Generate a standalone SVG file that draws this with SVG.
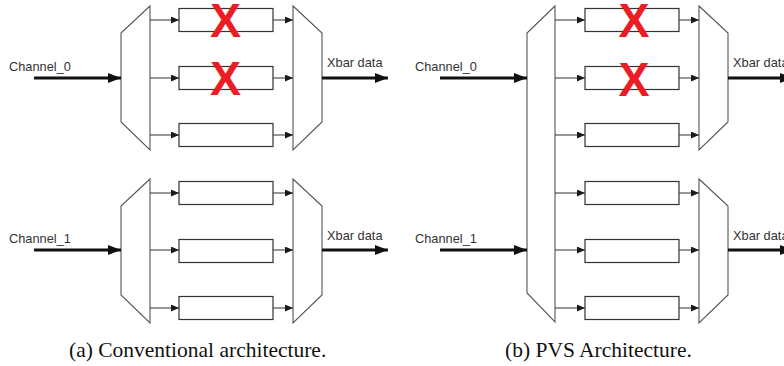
<svg xmlns="http://www.w3.org/2000/svg" width="784" height="366" viewBox="0 0 784 366">
  <defs>
    <marker id="head" markerUnits="userSpaceOnUse" markerWidth="9" markerHeight="8" refX="8" refY="3.5" orient="auto">
      <path d="M0,0 L8,3.5 L0,7 z" fill="#1a1a1a"/>
    </marker>
    <marker id="bighead" markerUnits="userSpaceOnUse" markerWidth="14" markerHeight="11" refX="13" refY="5" orient="auto">
      <path d="M0,0 L13,5 L0,10 z" fill="#111"/>
    </marker>
  </defs>
  <style>
    .mux { fill: #fff; stroke: #555; stroke-width: 1.1; }
    .buf { fill: #fff; stroke: #333; stroke-width: 1.2; }
    .thin { stroke: #444; stroke-width: 1.1; fill: none; marker-end: url(#head); }
    .thick { stroke: #111; stroke-width: 3.2; fill: none; marker-end: url(#bighead); }
    .lbl { font-family: "Liberation Sans", Arial, sans-serif; font-size: 12.8px; fill: #333; }
    .x { font-family: "Liberation Sans", Arial, sans-serif; font-weight: bold; font-size: 48px; fill: #ec1c24; text-anchor: middle; }
    .cap { font-family: "Liberation Serif", "Times New Roman", serif; font-size: 21.5px; fill: #111; }
  </style>

  <!-- (a) conventional: two independent demux / buffer / mux blocks -->
  <g id="a-ch0-demux"><polygon class="mux" points="150,6 121,33 121,122 150,150"/></g>
  <g id="a-ch0-buf0"><rect class="buf" x="179" y="8.5" width="94" height="23"/></g>
  <g id="a-ch0-buf1"><rect class="buf" x="179" y="66.5" width="94" height="23"/></g>
  <g id="a-ch0-buf2"><rect class="buf" x="179" y="123.5" width="94" height="23"/></g>
  <g id="a-ch0-mux"><polygon class="mux" points="293,6 322,33 322,122 293,150"/></g>

  <g id="a-ch1-demux"><polygon class="mux" points="150,179 121,206 121,295 150,323"/></g>
  <g id="a-ch1-buf0"><rect class="buf" x="179" y="181.5" width="94" height="23"/></g>
  <g id="a-ch1-buf1"><rect class="buf" x="179" y="239.5" width="94" height="23"/></g>
  <g id="a-ch1-buf2"><rect class="buf" x="179" y="296.5" width="94" height="23"/></g>
  <g id="a-ch1-mux"><polygon class="mux" points="293,179 322,206 322,295 293,323"/></g>

  <!-- (b) PVS: one shared demux feeding two mux blocks -->
  <g id="b-demux"><polygon class="mux" points="555,6 527,33 527,293 555,322"/></g>
  <g id="b-buf0"><rect class="buf" x="585" y="8.5" width="94" height="23"/></g>
  <g id="b-buf1"><rect class="buf" x="585" y="66.5" width="94" height="23"/></g>
  <g id="b-buf2"><rect class="buf" x="585" y="123.5" width="94" height="23"/></g>
  <g id="b-buf3"><rect class="buf" x="585" y="181.5" width="94" height="23"/></g>
  <g id="b-buf4"><rect class="buf" x="585" y="239.5" width="94" height="23"/></g>
  <g id="b-buf5"><rect class="buf" x="585" y="296.5" width="94" height="23"/></g>
  <g id="b-mux0"><polygon class="mux" points="699,6 728,33 728,122 699,150"/></g>
  <g id="b-mux1"><polygon class="mux" points="699,179 728,206 728,295 699,323"/></g>

  <g id="connectors">
    <!-- (a) top block -->
    <line class="thick" x1="34" y1="78" x2="121" y2="78"/>
    <line class="thin" x1="150" y1="20" x2="179" y2="20"/>
    <line class="thin" x1="150" y1="78" x2="179" y2="78"/>
    <line class="thin" x1="150" y1="135" x2="179" y2="135"/>
    <line class="thin" x1="273" y1="20" x2="293" y2="20"/>
    <line class="thin" x1="273" y1="78" x2="293" y2="78"/>
    <line class="thin" x1="273" y1="135" x2="293" y2="135"/>
    <line class="thick" x1="322" y1="78" x2="388" y2="78"/>
    <!-- (a) bottom block -->
    <line class="thick" x1="34" y1="250" x2="121" y2="250"/>
    <line class="thin" x1="150" y1="193" x2="179" y2="193"/>
    <line class="thin" x1="150" y1="250" x2="179" y2="250"/>
    <line class="thin" x1="150" y1="308" x2="179" y2="308"/>
    <line class="thin" x1="273" y1="193" x2="293" y2="193"/>
    <line class="thin" x1="273" y1="250" x2="293" y2="250"/>
    <line class="thin" x1="273" y1="308" x2="293" y2="308"/>
    <line class="thick" x1="322" y1="250" x2="388" y2="250"/>
    <!-- (b) -->
    <line class="thick" x1="440" y1="78" x2="527" y2="78"/>
    <line class="thick" x1="440" y1="250" x2="527" y2="250"/>
    <line class="thin" x1="555" y1="20" x2="585" y2="20"/>
    <line class="thin" x1="555" y1="78" x2="585" y2="78"/>
    <line class="thin" x1="555" y1="135" x2="585" y2="135"/>
    <line class="thin" x1="555" y1="193" x2="585" y2="193"/>
    <line class="thin" x1="555" y1="250" x2="585" y2="250"/>
    <line class="thin" x1="555" y1="308" x2="585" y2="308"/>
    <line class="thin" x1="679" y1="20" x2="699" y2="20"/>
    <line class="thin" x1="679" y1="78" x2="699" y2="78"/>
    <line class="thin" x1="679" y1="135" x2="699" y2="135"/>
    <line class="thin" x1="679" y1="193" x2="699" y2="193"/>
    <line class="thin" x1="679" y1="250" x2="699" y2="250"/>
    <line class="thin" x1="679" y1="308" x2="699" y2="308"/>
    <line class="thick" x1="728" y1="78" x2="793" y2="78"/>
    <line class="thick" x1="728" y1="250" x2="793" y2="250"/>
  </g>

  <!-- labels -->
  <text class="lbl" x="9" y="71">Channel_0</text>
  <text class="lbl" x="9" y="243">Channel_1</text>
  <text class="lbl" x="327" y="67">Xbar data</text>
  <text class="lbl" x="327" y="240">Xbar data</text>
  <text class="lbl" x="415" y="71">Channel_0</text>
  <text class="lbl" x="415" y="243">Channel_1</text>
  <text class="lbl" x="733" y="67">Xbar data</text>
  <text class="lbl" x="733" y="240">Xbar data</text>

  <!-- disabled buffers -->
  <text class="x" x="225.5" y="36.5" textLength="31" lengthAdjust="spacingAndGlyphs">X</text>
  <text class="x" x="225.5" y="95" textLength="31" lengthAdjust="spacingAndGlyphs">X</text>
  <text class="x" x="634" y="37" textLength="31" lengthAdjust="spacingAndGlyphs">X</text>
  <text class="x" x="634" y="96" textLength="31" lengthAdjust="spacingAndGlyphs">X</text>

  <!-- captions -->
  <text class="cap" x="69" y="357">(a) Conventional architecture.</text>
  <text class="cap" x="505" y="357">(b) PVS Architecture.</text>
</svg>
